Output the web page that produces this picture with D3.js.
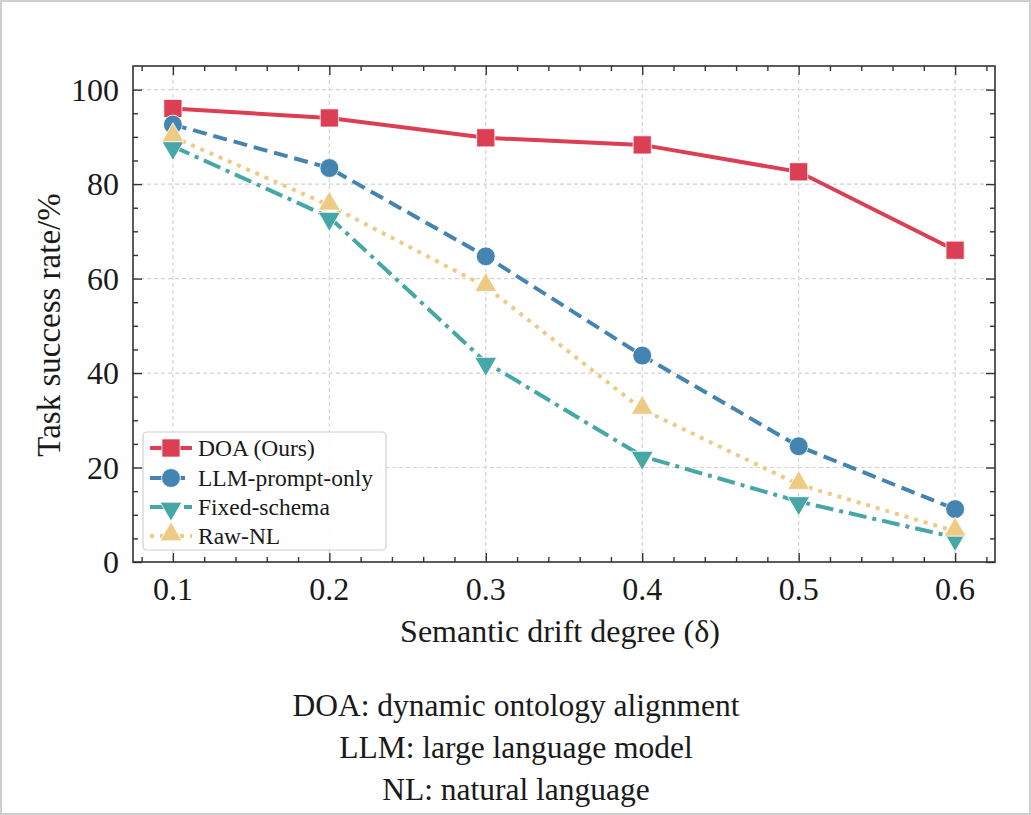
<!DOCTYPE html>
<html><head><meta charset="utf-8">
<script src="https://cdn.jsdelivr.net/npm/d3@7"></script>
<style>
html,body{margin:0;padding:0;background:#fff;}
svg text{font-family:"Liberation Serif","Times New Roman",serif;fill:#1a1a1a;}
</style></head>
<body>
<svg id="chart" width="1031" height="815"></svg>
<script>
const drift = [0.1, 0.2, 0.3, 0.4, 0.5, 0.6];
const doa = [96.0, 94.0, 89.8, 88.3, 82.6, 66.0];
const llmPrompt = [92.6, 83.4, 64.7, 43.7, 24.5, 11.2];
const fixedSchema = [88.0, 73.0, 42.3, 22.4, 12.8, 5.2];
const rawNL = [90.0, 75.5, 58.3, 32.3, 16.4, 6.5];
const seriesNames = ["DOA (Ours)", "LLM-prompt-only", "Fixed-schema", "Raw-NL"];
const xTicks = [0.1, 0.2, 0.3, 0.4, 0.5, 0.6];
const yTicks = [0, 20, 40, 60, 80, 100];
const captionLines = ["DOA: dynamic ontology alignment", "LLM: large language model", "NL: natural language"];

const svg = d3.select("#chart");
svg.append("rect").attr("x",1).attr("y",1).attr("width",1029).attr("height",813)
  .attr("fill","#fff").attr("stroke","#cfcfcf").attr("stroke-width",2);

const L=133, R=995, T=66, B=562;
const x = d3.scaleLinear().domain([0.0745, 0.6255]).range([L, R]);
const y = d3.scaleLinear().domain([0, 105]).range([B, T]);

// grid
const g = svg.append("g");
g.selectAll(".gx").data(xTicks).enter().append("line")
  .attr("x1",d=>x(d)).attr("x2",d=>x(d)).attr("y1",T).attr("y2",B)
  .attr("stroke","#d4d4d4").attr("stroke-width",1.2).attr("stroke-dasharray","4,3");
g.selectAll(".gy").data(yTicks.filter(d=>d>0)).enter().append("line")
  .attr("x1",L).attr("x2",R).attr("y1",d=>y(d)).attr("y2",d=>y(d))
  .attr("stroke","#d4d4d4").attr("stroke-width",1.2).attr("stroke-dasharray","4,3");

// axes with inward ticks
const xMinor = d3.range(0.08, 0.6201, 0.02).filter(v=>!xTicks.some(t=>Math.abs(t-v)<1e-6));
const yMinor = d3.range(5, 105, 5).filter(v=>v%20!==0);
function tickLines(axisGen, vals, len, transform){
  const a = svg.append("g").attr("transform",transform)
    .call(axisGen.tickValues(vals).tickSize(len).tickFormat(""));
  a.select(".domain").remove();
  a.selectAll("line").attr("stroke","#333").attr("stroke-width",1.4);
}
tickLines(d3.axisTop(x), xTicks, 9, `translate(0,${B})`);
tickLines(d3.axisTop(x), xMinor, 5, `translate(0,${B})`);
tickLines(d3.axisBottom(x), xTicks, 9, `translate(0,${T})`);
tickLines(d3.axisBottom(x), xMinor, 5, `translate(0,${T})`);
tickLines(d3.axisRight(y), yTicks, 9, `translate(${L},0)`);
tickLines(d3.axisRight(y), yMinor, 5, `translate(${L},0)`);
tickLines(d3.axisLeft(y), yTicks, 9, `translate(${R},0)`);
tickLines(d3.axisLeft(y), yMinor, 5, `translate(${R},0)`);

// tick labels
svg.append("g").selectAll("text").data(xTicks).enter().append("text")
  .attr("x",d=>x(d)).attr("y",600).attr("text-anchor","middle")
  .attr("font-size",32).text(d=>d3.format(".1f")(d));
svg.append("g").selectAll("text").data(yTicks).enter().append("text")
  .attr("x",119).attr("y",d=>y(d)+11).attr("text-anchor","end")
  .attr("font-size",32).text(d=>d);

// axis labels
svg.append("text").attr("x",(L+R)/2 - 4).attr("y",642).attr("text-anchor","middle")
  .attr("font-size",32).text("Semantic drift degree (δ)");
svg.append("text").attr("transform","translate(60,325) rotate(-90)").attr("text-anchor","middle")
  .attr("font-size",33).text("Task success rate/%");

// series
const series = [
  {name:seriesNames[0], vals:doa, color:"#DC3E54", dash:null, marker:"square"},
  {name:seriesNames[1], vals:llmPrompt, color:"#4484B0", dash:"14,7", marker:"circle"},
  {name:seriesNames[2], vals:fixedSchema, color:"#45A8A6", dash:"18,6,4,6", marker:"down"},
  {name:seriesNames[3], vals:rawNL, color:"#EECB85", dash:"4,6", marker:"up"}
];
const sym = {
  square: d3.symbol().type(d3.symbolSquare).size(330),
  circle: d3.symbol().type(d3.symbolCircle).size(280),
  up: d3.symbol().type(d3.symbolTriangle).size(210),
  down: d3.symbol().type(d3.symbolTriangle).size(210)
};
const line = d3.line().x((d,i)=>x(drift[i])).y(d=>y(d));
const plot = svg.append("g");
series.forEach(s=>{
  plot.append("path").datum(s.vals).attr("d",line).attr("fill","none")
    .attr("stroke",s.color).attr("stroke-width",4)
    .attr("stroke-dasharray",s.dash);
  plot.selectAll(null).data(s.vals).enter().append("path")
    .attr("d",sym[s.marker]())
    .attr("transform",(d,i)=>`translate(${x(drift[i])},${y(d) + (s.marker==="up"?-1.5:(s.marker==="down"?1.5:0))}) rotate(${s.marker==="down"?180:0})`)
    .attr("fill",s.color).attr("stroke","#fff").attr("stroke-width",0.8);
});

// frame
svg.append("rect").attr("x",L).attr("y",T).attr("width",R-L).attr("height",B-T)
  .attr("fill","none").attr("stroke","#333").attr("stroke-width",1.6);

// legend
const lg = svg.append("g");
lg.append("rect").attr("x",143).attr("y",432).attr("width",243).attr("height",118)
  .attr("rx",4).attr("fill","#fff").attr("fill-opacity",0.85).attr("stroke","#d0d0d0").attr("stroke-width",1.2);
const rowY = [448, 478, 507, 536];
series.forEach((s,i)=>{
  lg.append("line").attr("x1",150).attr("x2",192).attr("y1",rowY[i]).attr("y2",rowY[i])
    .attr("stroke",s.color).attr("stroke-width",4).attr("stroke-dasharray",s.dash);
  lg.append("path").attr("d",sym[s.marker]())
    .attr("transform",`translate(171,${rowY[i] + (s.marker==="up"?-1.5:(s.marker==="down"?1.5:0))}) rotate(${s.marker==="down"?180:0})`)
    .attr("fill",s.color).attr("stroke","#fff").attr("stroke-width",0.8);
  lg.append("text").attr("x",198).attr("y",rowY[i]+8).attr("font-size",23.5).text(s.name);
});

// caption
svg.append("g").selectAll("text").data(captionLines).enter().append("text")
  .attr("x",516).attr("y",(d,i)=>716+i*42).attr("text-anchor","middle")
  .attr("font-size",31.5).text(d=>d);
</script>
</body></html>
